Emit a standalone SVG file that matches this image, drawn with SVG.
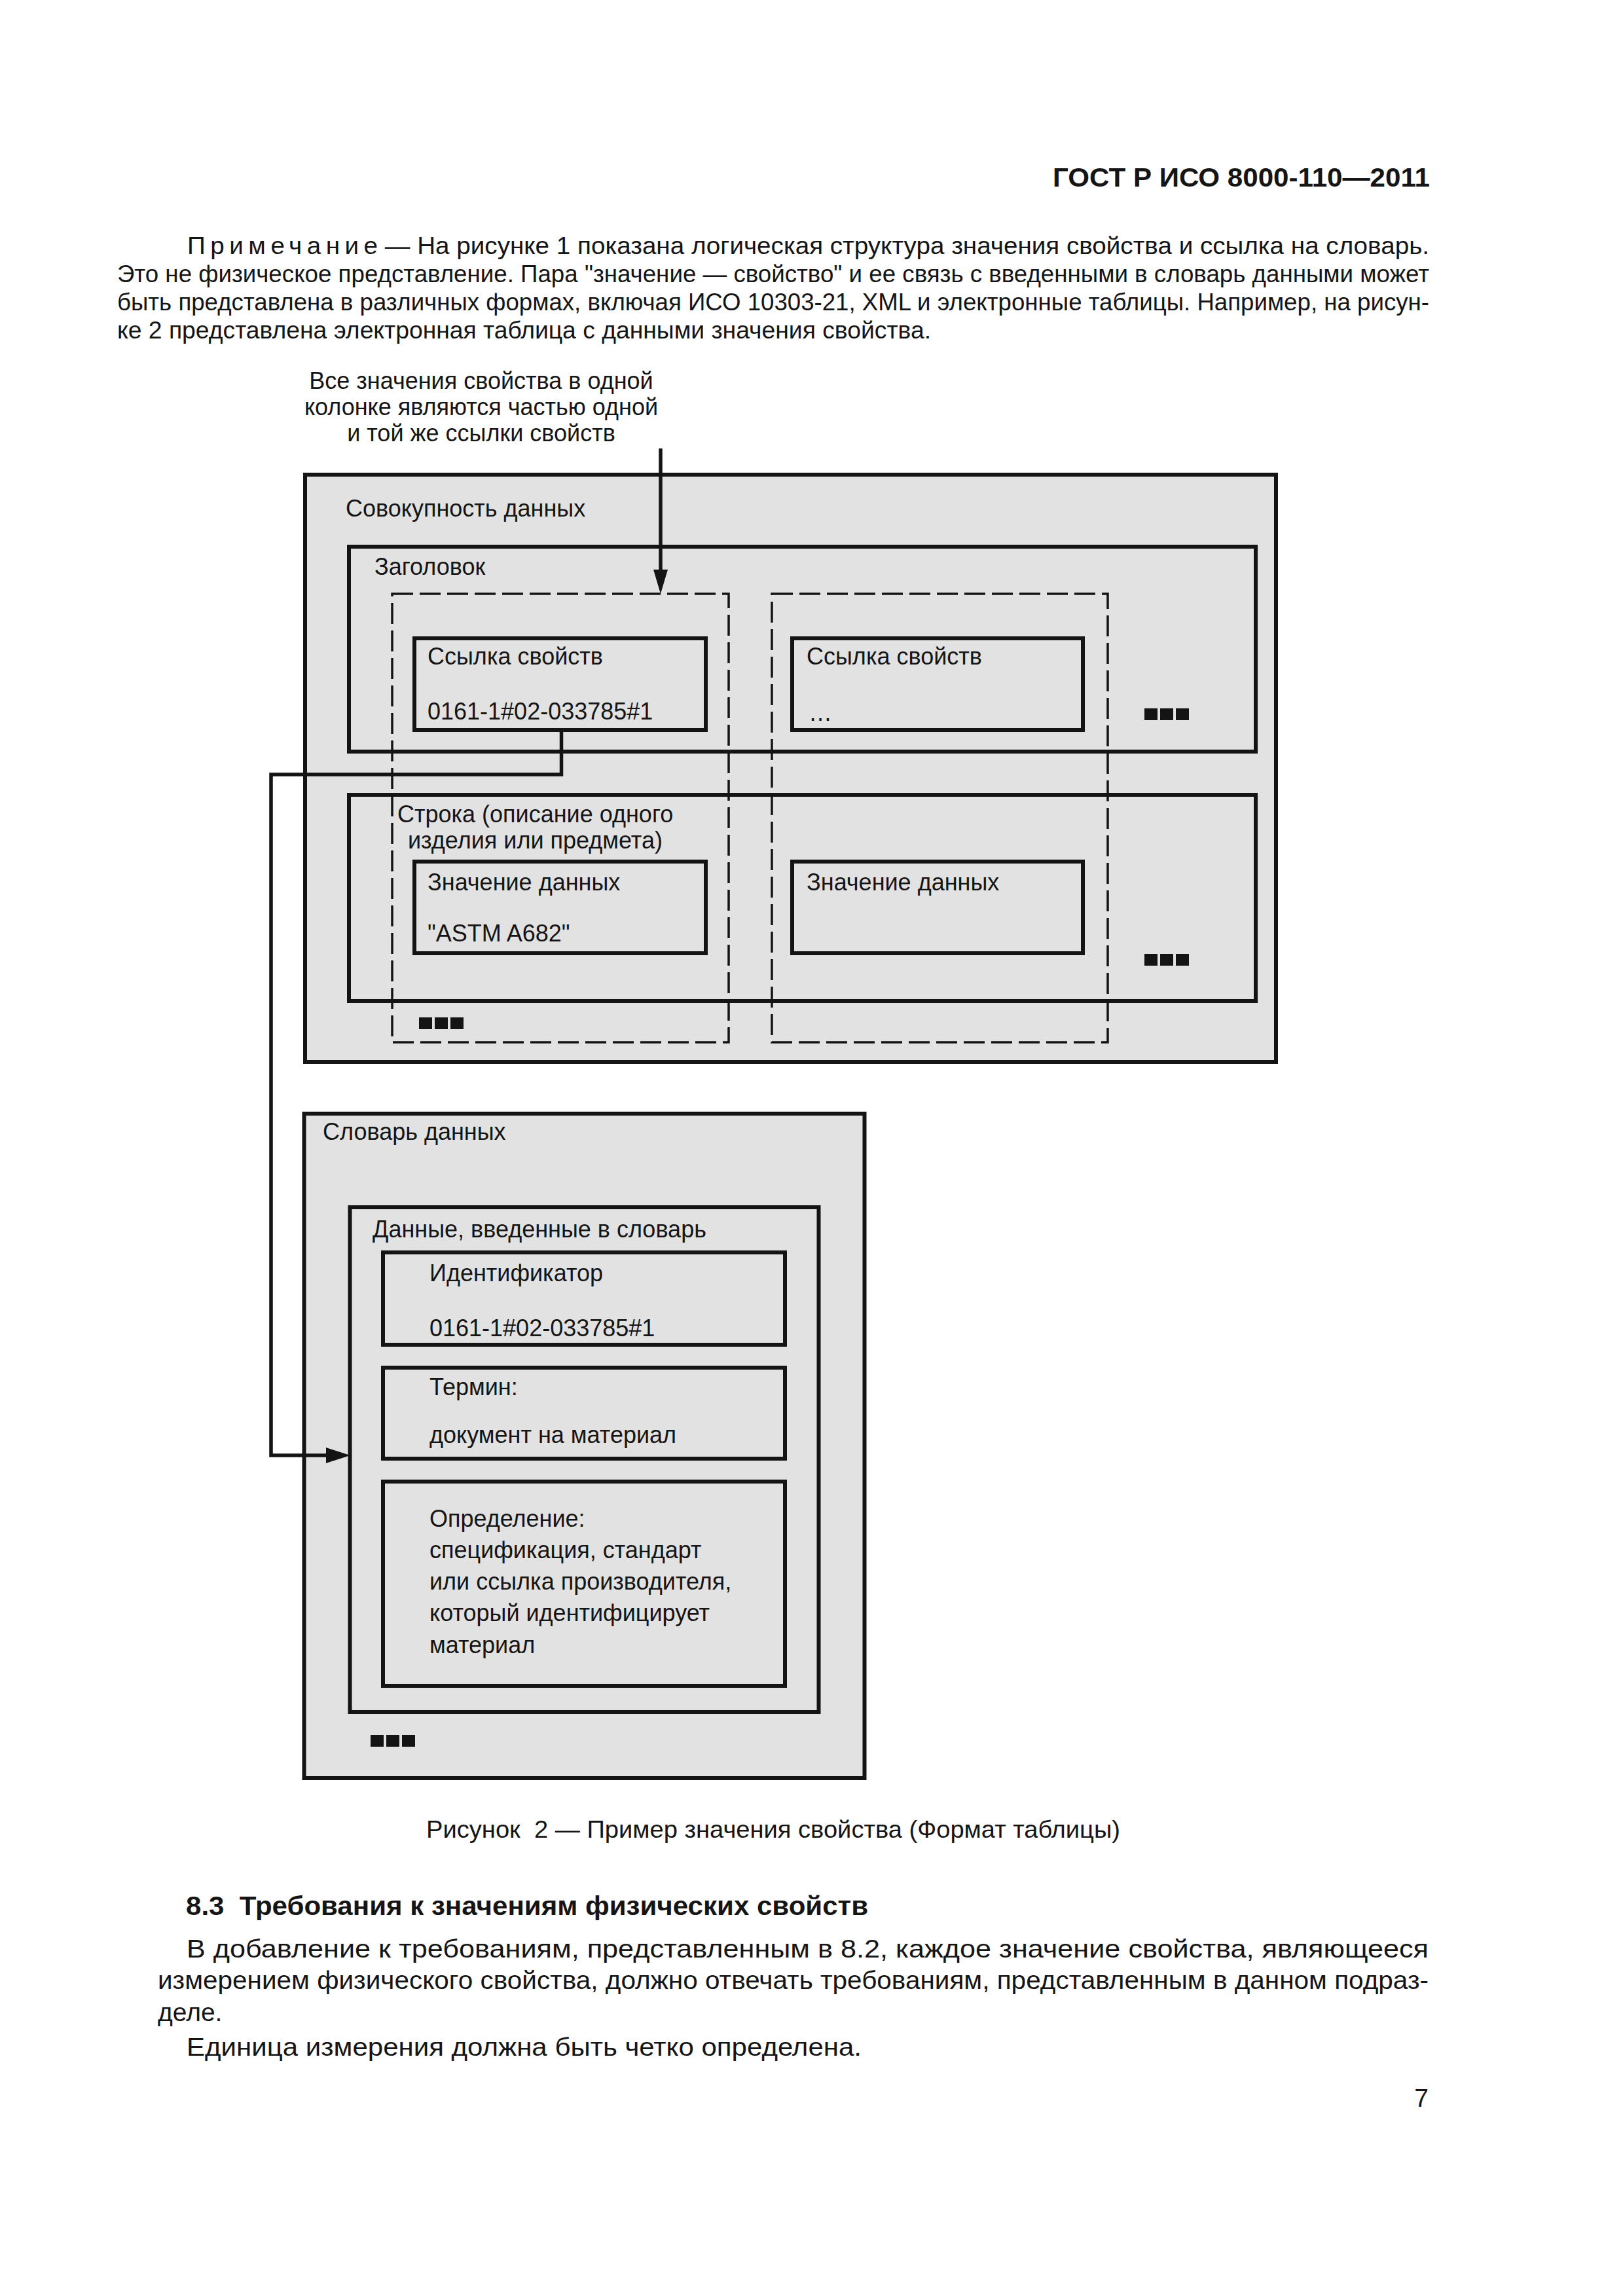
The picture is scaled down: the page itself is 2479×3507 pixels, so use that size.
<svg xmlns="http://www.w3.org/2000/svg" width="2479" height="3507" viewBox="0 0 2479 3507">
<style>
text{font-family:"Liberation Sans",Arial,sans-serif;fill:#151515}
.pg{font-size:36px}
.bd{font-size:39px}
.hd{font-size:40px;font-weight:bold}
.fg{font-size:36px}
.cap{font-size:36px}
.box{fill:#e2e2e2;stroke:#141414;stroke-width:6}
.dash{fill:none;stroke:#141414;stroke-width:3.5;stroke-dasharray:32 10}
.sq{fill:#141414}
.conn{fill:none;stroke:#141414;stroke-width:5.5}
</style>
<rect width="2479" height="3507" fill="#fff"/>
<text class="hd" x="1608" y="285" textLength="576" lengthAdjust="spacingAndGlyphs">ГОСТ Р ИСО 8000-110—2011</text>
<g id="note">
<text class="pg" x="286" y="388" textLength="1897" lengthAdjust="spacingAndGlyphs"><tspan letter-spacing="7">Примечани</tspan>е — На рисунке 1 показана логическая структура значения свойства и ссылка на словарь.</text>
<text class="pg" x="179" y="431" textLength="2004" lengthAdjust="spacingAndGlyphs">Это не физическое представление. Пара "значение — свойство" и ее связь с введенными в словарь данными может</text>
<text class="pg" x="179" y="474" textLength="2004" lengthAdjust="spacingAndGlyphs">быть представлена в различных формах, включая ИСО 10303-21, XML и электронные таблицы. Например, на рисун-</text>
<text class="pg" x="179" y="517" textLength="1243" lengthAdjust="spacingAndGlyphs">ке 2 представлена электронная таблица с данными значения свойства.</text>
</g>
<g id="annotation">
<text class="fg" x="735" y="594" text-anchor="middle">Все значения свойства в одной</text>
<text class="fg" x="735" y="634" text-anchor="middle">колонке являются частью одной</text>
<text class="fg" x="735" y="674" text-anchor="middle">и той же ссылки свойств</text>
</g>
<g id="dataset">
<rect class="box" x="466" y="725" width="1483" height="897"/>
<text class="fg" x="528" y="789">Совокупность данных</text>
</g>
<g id="header">
<rect class="box" x="533" y="835" width="1385" height="313"/>
<text class="fg" x="572" y="878">Заголовок</text>
<rect class="sq" x="1748" y="1082" width="20" height="18"/>
<rect class="sq" x="1772" y="1082" width="20" height="18"/>
<rect class="sq" x="1796" y="1082" width="20" height="18"/>
</g>
<g id="propref1">
<rect class="box" x="633" y="975" width="445" height="140"/>
<text class="fg" x="653" y="1015">Ссылка свойств</text>
<text class="fg" x="653" y="1099">0161-1#02-033785#1</text>
</g>
<g id="propref2">
<rect class="box" x="1210" y="975" width="444" height="140"/>
<text class="fg" x="1232" y="1015">Ссылка свойств</text>
<text class="fg" x="1235" y="1101">…</text>
</g>
<g id="row">
<rect class="box" x="533" y="1214" width="1385" height="315"/>
<text class="fg" x="607" y="1256">Строка (описание одного</text>
<text class="fg" x="623" y="1296">изделия или предмета)</text>
<rect class="sq" x="1748" y="1457" width="20" height="18"/>
<rect class="sq" x="1772" y="1457" width="20" height="18"/>
<rect class="sq" x="1796" y="1457" width="20" height="18"/>
</g>
<g id="value1">
<rect class="box" x="633" y="1316" width="445" height="140"/>
<text class="fg" x="653" y="1360">Значение данных</text>
<text class="fg" x="653" y="1438">"ASTM A682"</text>
</g>
<g id="value2">
<rect class="box" x="1210" y="1316" width="444" height="140"/>
<text class="fg" x="1232" y="1360">Значение данных</text>
</g>
<g id="column1">
<rect class="dash" x="599" y="907" width="514" height="685"/>
<rect class="sq" x="640" y="1554" width="20" height="18"/>
<rect class="sq" x="664" y="1554" width="20" height="18"/>
<rect class="sq" x="688" y="1554" width="20" height="18"/>
</g>
<g id="column2">
<rect class="dash" x="1179" y="907" width="513" height="685"/>
</g>
<g id="dictionary">
<rect class="box" x="464.5" y="1701" width="856" height="1015"/>
<text class="fg" x="493" y="1741">Словарь данных</text>
<rect class="sq" x="566" y="2650" width="20" height="18"/>
<rect class="sq" x="590" y="2650" width="20" height="18"/>
<rect class="sq" x="614" y="2650" width="20" height="18"/>
</g>
<g id="entry">
<rect class="box" x="534.5" y="1844" width="716" height="771"/>
<text class="fg" x="569" y="1890">Данные, введенные в словарь</text>
</g>
<g id="identifier">
<rect class="box" x="585" y="1913" width="614" height="141"/>
<text class="fg" x="656" y="1957">Идентификатор</text>
<text class="fg" x="656" y="2041">0161-1#02-033785#1</text>
</g>
<g id="term">
<rect class="box" x="585" y="2089" width="614" height="139"/>
<text class="fg" x="656" y="2131">Термин:</text>
<text class="fg" x="656" y="2204">документ на материал</text>
</g>
<g id="definition">
<rect class="box" x="585" y="2263" width="614" height="312"/>
<text class="fg" x="656" y="2332">Определение:</text>
<text class="fg" x="656" y="2380">спецификация, стандарт</text>
<text class="fg" x="656" y="2428">или ссылка производителя,</text>
<text class="fg" x="656" y="2476">который идентифицирует</text>
<text class="fg" x="656" y="2525">материал</text>
</g>
<g id="connectors">
<line class="conn" x1="1009" y1="685" x2="1009" y2="875"/>
<polygon points="998,870 1009,907 1020,870" fill="#141414"/>
<path class="conn" d="M857.5,1115 V1183 H414 V2223 H502"/>
<polygon points="498,2211 535,2223 498,2235" fill="#141414"/>
</g>
<text class="cap" x="651" y="2807" textLength="1060" lengthAdjust="spacingAndGlyphs" xml:space="preserve">Рисунок  2 — Пример значения свойства (Формат таблицы)</text>
<text class="hd" x="284" y="2925" textLength="1042" lengthAdjust="spacingAndGlyphs" xml:space="preserve">8.3  Требования к значениям физических свойств</text>
<text class="bd" x="285" y="2990" textLength="1897" lengthAdjust="spacingAndGlyphs">В добавление к требованиям, представленным в 8.2, каждое значение свойства, являющееся</text>
<text class="bd" x="241" y="3038" textLength="1941" lengthAdjust="spacingAndGlyphs">измерением физического свойства, должно отвечать требованиям, представленным в данном подраз-</text>
<text class="bd" x="241" y="3087">деле.</text>
<text class="bd" x="285" y="3140" textLength="1031" lengthAdjust="spacingAndGlyphs">Единица измерения должна быть четко определена.</text>
<text class="bd" x="2182" y="3218" text-anchor="end">7</text>
</svg>
